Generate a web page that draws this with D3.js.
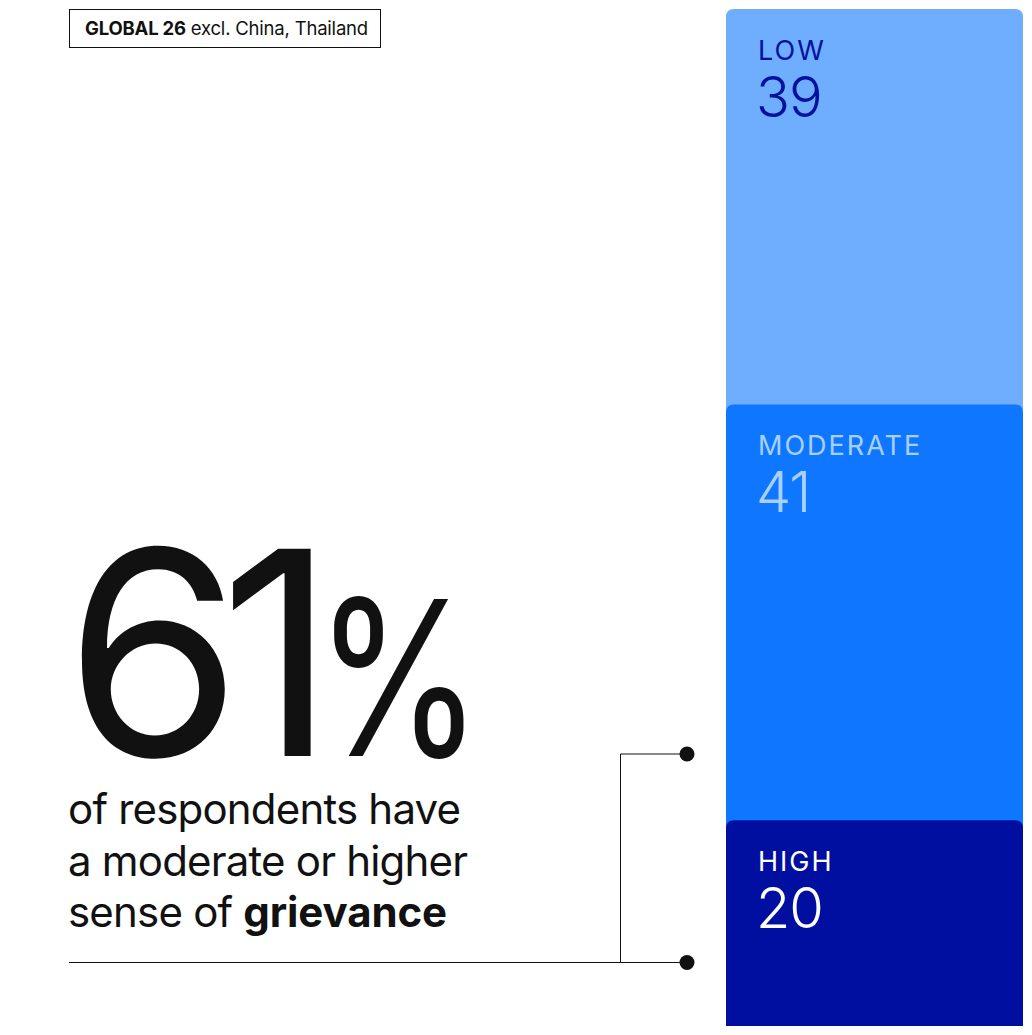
<!DOCTYPE html>
<html>
<head>
<meta charset="utf-8">
<script src="https://cdn.jsdelivr.net/npm/d3@7"></script>
<style>
  html, body { margin: 0; padding: 0; background: #fff; }
  svg { display: block; font-family: Inter, "Noto Sans", sans-serif; }
</style>
</head>
<body>
<svg id="chart" width="1032" height="1035"></svg>
<script>
// ---- data ----
const categories = ["LOW", "MODERATE", "HIGH"];
const values = [39, 41, 20];
const fillColors = ["#6fadff", "#0f77ff", "#000fa0"];
const textColors = ["#0011a0", "#a8d0ff", "#ffffff"];
const headlineNumber = "61";
const headlineUnit = "%";
const subtitleLines = [
  [{t: "of respondents have", b: false}],
  [{t: "a moderate or higher", b: false}],
  [{t: "sense of ", b: false}, {t: "grievance", b: true}]
];
const scopeBold = "GLOBAL 26";
const scopeRest = " excl. China, Thailand";

// ---- layout ----
const svg = d3.select("#chart");
const ink = "#111111";
const barX = 726, barW = 297, barTop = 9, barBottom = 1023;
const y = d3.scaleLinear().domain([0, d3.sum(values)]).range([barTop, barBottom]);

let acc = 0;
const segs = categories.map((c, i) => {
  const s = {cat: c, val: values[i], y0: acc, y1: acc + values[i], i};
  acc += values[i];
  return s;
});

const r = 8;
function topRounded(x, y0, w, h, r) {
  return `M${x},${y0 + h}V${y0 + r}Q${x},${y0} ${x + r},${y0}H${x + w - r}Q${x + w},${y0} ${x + w},${y0 + r}V${y0 + h}Z`;
}

const g = svg.append("g");
g.selectAll("path.seg").data(segs).join("path")
  .attr("class", "seg")
  .attr("d", d => topRounded(barX, y(d.y0), barW,
    (d.i < segs.length - 1 ? y(d.y1) - y(d.y0) + r : 1026 - y(d.y0)), r))
  .attr("fill", d => fillColors[d.i]);

g.selectAll("text.cat").data(segs).join("text")
  .attr("class", "cat")
  .attr("x", barX + 32)
  .attr("y", d => y(d.y0) + 51)
  .attr("fill", d => textColors[d.i])
  .attr("font-size", 27)
  .attr("letter-spacing", "2px")
  .attr("font-weight", 400)
  .text(d => d.cat);

g.selectAll("text.val").data(segs).join("text")
  .attr("class", "val")
  .attr("x", barX + 30)
  .attr("y", d => y(d.y0) + 108)
  .attr("fill", d => textColors[d.i])
  .attr("font-size", 56)
  .attr("font-weight", 300)
  .attr("letter-spacing", "-1px")
  .text(d => d.val);

// scope box
svg.append("rect").attr("x", 69.5).attr("y", 9.5).attr("width", 311).attr("height", 38)
  .attr("fill", "none").attr("stroke", ink).attr("stroke-width", 1);
const st = svg.append("text").attr("x", 85).attr("y", 35).attr("font-size", 18.5).attr("fill", ink)
  .attr("letter-spacing", "-0.2px");
st.append("tspan").attr("font-weight", 700).text(scopeBold);
st.append("tspan").attr("font-weight", 400).text(scopeRest);

// headline
svg.append("text").attr("x", 65).attr("y", 756)
  .attr("font-size", 285).attr("font-weight", 400).attr("fill", ink)
  .attr("letter-spacing", "-22px")
  .text(headlineNumber);
svg.append("text").attr("transform", "translate(315,756) scale(0.79,1)")
  .attr("font-size", 216).attr("font-weight", 400).attr("fill", ink)
  .text(headlineUnit);

// subtitle
subtitleLines.forEach((line, i) => {
  const t = svg.append("text").attr("x", 68).attr("y", 824 + i * 51.5)
    .attr("font-size", 42).attr("fill", ink);
  line.forEach(p => t.append("tspan").attr("font-weight", p.b ? 700 : 400)
    .attr("letter-spacing", p.b ? "-0.1px" : "-0.8px").text(p.t));
});

// bracket annotation
const dotX = 687, topY = 754, botY = 962.5, jointX = 620.5;
svg.append("path")
  .attr("d", `M69,${botY}H${dotX}M${jointX},${botY}V${topY}H${dotX}`)
  .attr("fill", "none").attr("stroke", ink).attr("stroke-width", 1);
svg.selectAll("circle.dot").data([topY, botY]).join("circle")
  .attr("class", "dot").attr("cx", dotX).attr("cy", d => d).attr("r", 7.5).attr("fill", ink);
</script>
</body>
</html>
